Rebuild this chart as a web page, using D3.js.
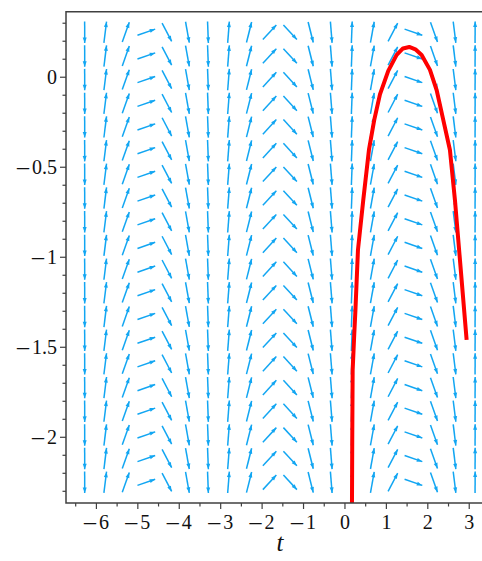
<!DOCTYPE html>
<html>
<head>
<meta charset="utf-8">
<script src="https://cdn.jsdelivr.net/npm/d3@7"></script>
<style>
body { margin: 0; background: #fff; }
text { font-family: "Liberation Serif", "Times New Roman", Times, "DejaVu Serif", serif; fill: #111; }
</style>
</head>
<body>
<div id="chart-area"></div>
<script>
// direction field grid
var tCols = [-6.283, -5.787, -5.291, -4.795, -4.299, -3.803, -3.307, -2.811, -2.315, -1.819,
             -1.323, -0.827, -0.331, 0.165, 0.661, 1.157, 1.653, 2.149, 2.645, 3.142];
var yRows = [0.25, 0.118, -0.013, -0.145, -0.276, -0.408, -0.539, -0.671, -0.803, -0.934,
             -1.066, -1.197, -1.329, -1.461, -1.592, -1.724, -1.855, -1.987, -2.118, -2.25];
// slope dy/dt of the arrows in each column
var slopes = [-60, 1.85, 0.65, 0.08, -0.44, -1.28, -6.0, 2.9, 0.92, 0.25,
              -0.25, -0.92, -2.9, 6.0, 1.28, 0.44, -0.08, -0.65, -1.85, 60];

// red solution curve
var curveT = [0.169, 0.176, 0.186, 0.22, 0.253, 0.314, 0.442, 0.579, 0.707, 0.845, 1.045,
              1.248, 1.4, 1.552, 1.7, 1.851, 2.052, 2.213, 2.373, 2.534, 2.655, 2.776, 2.937];
var curveY = [-2.376, -2.015, -1.626, -1.45, -1.292, -0.959, -0.682, -0.404, -0.237, -0.095, 0.035,
              0.124, 0.16, 0.168, 0.155, 0.124, 0.041, -0.071, -0.237, -0.404, -0.682, -1.015, -1.459];

var xTicks = [-6, -5, -4, -3, -2, -1, 0, 1, 2, 3];
var yTicks = [0, -0.5, -1, -1.5, -2];

var width = 482;
var height = 561;

var svg = d3.select("#chart-area").append("svg")
    .attr("width", width)
    .attr("height", height);

var x = d3.scaleLinear()
    .domain([-6.734, 3.593])
    .range([66, 493.8]);

var y = d3.scaleLinear()
    .domain([-2.365, 0.364])
    .range([503, 11.7]);

var arrowColor = "#12a6f2";
var frameColor = "#404040";

svg.append("clipPath")
    .attr("id", "plot-clip")
    .append("rect")
    .attr("x", x.range()[0])
    .attr("y", y.range()[1])
    .attr("width", x.range()[1] - x.range()[0])
    .attr("height", y.range()[0] - y.range()[1]);

// arrows
var dt = tCols[1] - tCols[0];
var dy = yRows[0] - yRows[1];
var arrows = [];
tCols.forEach((t, i) => {
    yRows.forEach((yy) => {
        var a = 1 / dt, b = slopes[i] / dy;
        var n = Math.sqrt(a * a + b * b);
        var vt = a / n * dt * 0.45, vy = b / n * dy * 0.45;
        arrows.push({ x0: x(t - vt), y0: y(yy - vy), x1: x(t + vt), y1: y(yy + vy) });
    });
});

var ag = svg.append("g").attr("class", "field");
var headLen = 5.5, headW = 2;

ag.selectAll("line")
    .data(arrows)
    .enter()
    .append("line")
        .attr("x1", (d) => d.x0)
        .attr("y1", (d) => d.y0)
        .attr("x2", (d) => d.x1)
        .attr("y2", (d) => d.y1)
        .attr("stroke", arrowColor)
        .attr("stroke-width", 1.5);

ag.selectAll("path")
    .data(arrows)
    .enter()
    .append("path")
        .attr("d", (d) => {
            var L = Math.hypot(d.x1 - d.x0, d.y1 - d.y0);
            var ux = (d.x1 - d.x0) / L, uy = (d.y1 - d.y0) / L;
            var bx = d.x1 - ux * headLen, by = d.y1 - uy * headLen;
            return "M" + d.x1 + "," + d.y1 +
                "L" + (bx - uy * headW) + "," + (by + ux * headW) +
                "L" + (bx + uy * headW) + "," + (by - ux * headW) + "Z";
        })
        .attr("fill", arrowColor);

// solution curve
var line = d3.line()
    .x((d) => x(d[0]))
    .y((d) => y(d[1]));

svg.append("path")
    .datum(curveT.map((t, i) => [t, curveY[i]]))
    .attr("clip-path", "url(#plot-clip)")
    .attr("d", line)
    .attr("fill", "none")
    .attr("stroke", "#ff0000")
    .attr("stroke-width", 4)
    .attr("stroke-linejoin", "round");

// frame
svg.append("path")
    .attr("d", "M" + x.range()[1] + "," + y.range()[1] + "H" + x.range()[0] +
        "V" + y.range()[0] + "H" + x.range()[1])
    .attr("fill", "none")
    .attr("stroke", frameColor)
    .attr("stroke-width", 1.5);

var fmt = (v) => Math.abs(v).toString();

// x axis ticks
var xMinor = d3.range(-6.5, 3.6, 0.5).filter((v) => v % 1 !== 0);
var xg = svg.append("g").attr("class", "x axis");
xg.selectAll("line.minor").data(xMinor).enter().append("line")
    .attr("x1", (d) => x(d)).attr("x2", (d) => x(d))
    .attr("y1", y.range()[0]).attr("y2", y.range()[0] + 3.5)
    .attr("stroke", frameColor).attr("stroke-width", 1.2);
xg.selectAll("line.major").data(xTicks).enter().append("line")
    .attr("x1", (d) => x(d)).attr("x2", (d) => x(d))
    .attr("y1", y.range()[0]).attr("y2", y.range()[0] + 6)
    .attr("stroke", frameColor).attr("stroke-width", 1.2);

var xt = xg.selectAll("text").data(xTicks).enter().append("text")
    .attr("x", (d) => x(d))
    .attr("y", 529)
    .attr("text-anchor", "middle")
    .attr("font-size", 20);
xt.filter((d) => d < 0).append("tspan")
    .attr("font-size", 24)
    .text("\u2013");
xt.append("tspan")
    .attr("dx", (d) => d < 0 ? 3 : 0)
    .text(fmt);

// y axis ticks
var yMinor = d3.range(-23, 4).map((v) => v / 10).filter((v) => Math.round(v * 10) % 5 !== 0);
var yg = svg.append("g").attr("class", "y axis");
yg.selectAll("line.minor").data(yMinor).enter().append("line")
    .attr("x1", x.range()[0] - 3.5).attr("x2", x.range()[0])
    .attr("y1", (d) => y(d)).attr("y2", (d) => y(d))
    .attr("stroke", frameColor).attr("stroke-width", 1.2);
yg.selectAll("line.major").data(yTicks).enter().append("line")
    .attr("x1", x.range()[0] - 6).attr("x2", x.range()[0])
    .attr("y1", (d) => y(d)).attr("y2", (d) => y(d))
    .attr("stroke", frameColor).attr("stroke-width", 1.2);

var yt = yg.selectAll("text").data(yTicks).enter().append("text")
    .attr("x", 57)
    .attr("y", (d) => y(d) + 7)
    .attr("text-anchor", "end")
    .attr("font-size", 20);
yt.filter((d) => d < 0).append("tspan")
    .attr("font-size", 24)
    .text("\u2013");
yt.append("tspan")
    .attr("dx", (d) => d < 0 ? 3 : 0)
    .text(fmt);

// x label
svg.append("text")
    .attr("x", (x.range()[0] + x.range()[1]) / 2)
    .attr("y", 551)
    .attr("text-anchor", "middle")
    .attr("font-style", "italic")
    .attr("font-size", 25)
    .text("t");
</script>
</body>
</html>
